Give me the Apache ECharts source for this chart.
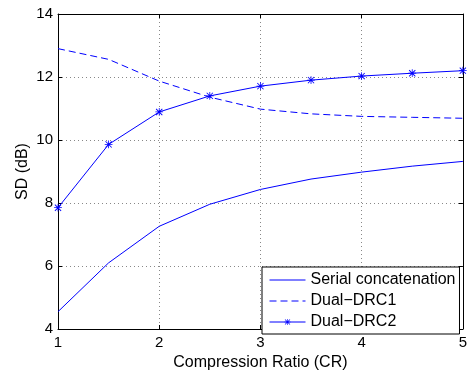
<!DOCTYPE html>
<html>
<head>
<meta charset="utf-8">
<script src="https://cdn.jsdelivr.net/npm/echarts@6/dist/echarts.min.js"></script>
<style>html,body{margin:0;padding:0;background:#fff;}#c{width:470px;height:376px;}</style>
</head>
<body>
<div id="c"></div>
<script>
var xValues = [1, 1.5, 2, 2.5, 3, 3.5, 4, 4.5, 5];
var serialConcat = [4.55, 6.1, 7.26, 7.96, 8.43, 8.76, 8.98, 9.17, 9.32];
var dualDRC1 = [12.9, 12.56, 11.87, 11.36, 10.98, 10.83, 10.75, 10.72, 10.69];
var dualDRC2 = [7.85, 9.86, 10.89, 11.4, 11.71, 11.9, 12.03, 12.12, 12.2];
var seriesNames = ['Serial concatenation', 'Dual\u2212DRC1', 'Dual\u2212DRC2'];
var xTicks = [1, 2, 3, 4, 5];
var yTicks = [4, 6, 8, 10, 12, 14];

function pairs(ys) { return xValues.map(function (x, i) { return [x, ys[i]]; }); }

var FONT = '"Liberation Sans", Arial, Helvetica, sans-serif';
var BLUE = '#0000ff';
// asterisk (10 units) centred in an 18-unit box marked by two tiny corner dots
var asterisk = 'path://M0,0 L0.01,0 L0.01,0.01 Z M18,18 L17.99,18 L17.99,17.99 Z ' +
  'M8.5,4 L9.5,4 L9.5,14 L8.5,14 Z M4,8.5 L14,8.5 L14,9.5 L4,9.5 Z ' +
  'M5.4,4.6 L13.4,12.6 L12.6,13.4 L4.6,5.4 Z M12.6,4.6 L13.4,5.4 L5.4,13.4 L4.6,12.6 Z';

var gridLine = { show: true, lineStyle: { color: '#888', width: 1, type: [1, 3] } };
var axisLine = { show: true, onZero: false, lineStyle: { color: '#000', width: 1 } };
var tick = { show: true, inside: true, length: 4, lineStyle: { color: '#000', width: 1 } };

var chart = echarts.init(document.getElementById('c'), null, { renderer: 'canvas' });
chart.setOption({
  backgroundColor: '#fff',
  animation: false,
  textStyle: { fontFamily: FONT, color: '#000' },
  grid: { left: 58, top: 14, width: 407, height: 321, containLabel: false },
  xAxis: [{
    type: 'value', min: xTicks[0], max: xTicks[xTicks.length - 1], interval: 1,
    name: 'Compression Ratio (CR)', nameLocation: 'middle', nameGap: 26, nameMoveOverlap: false,
    nameTextStyle: { fontSize: 16, color: '#000', fontFamily: FONT },
    axisLine: axisLine, axisTick: tick, splitLine: gridLine,
    axisLabel: { fontSize: 15, color: '#000', margin: 6, fontFamily: FONT }
  }, {
    type: 'value', position: 'top', min: xTicks[0], max: xTicks[xTicks.length - 1], interval: 1,
    axisLine: axisLine, axisTick: tick, splitLine: { show: false }, axisLabel: { show: false }
  }],
  yAxis: [{
    type: 'value', min: yTicks[0], max: yTicks[yTicks.length - 1], interval: 2,
    name: 'SD (dB)', nameLocation: 'middle', nameGap: 27, nameMoveOverlap: false,
    nameTextStyle: { fontSize: 16, color: '#000', fontFamily: FONT },
    axisLine: axisLine, axisTick: tick, splitLine: gridLine,
    axisLabel: { fontSize: 15, color: '#000', margin: 5, fontFamily: FONT }
  }, {
    type: 'value', position: 'right', min: yTicks[0], max: yTicks[yTicks.length - 1], interval: 2,
    axisLine: axisLine, axisTick: tick, splitLine: { show: false }, axisLabel: { show: false }
  }],
  legend: {
    orient: 'vertical', left: 262, top: 267,
    padding: [5, 4, 4, 7], itemGap: 5, itemWidth: 36, itemHeight: 14,
    backgroundColor: '#fff', borderColor: '#000', borderWidth: 1, borderRadius: 0,
    textStyle: { fontSize: 16, color: '#000', fontFamily: FONT },
    lineStyle: { width: 1 },
    data: [
      { name: seriesNames[0], itemStyle: { opacity: 0 } },
      { name: seriesNames[1], itemStyle: { opacity: 0 } },
      { name: seriesNames[2] }
    ]
  },
  series: [{
    name: seriesNames[0], type: 'line', data: pairs(serialConcat), symbol: 'none',
    lineStyle: { color: BLUE, width: 1 }, itemStyle: { color: BLUE }
  }, {
    name: seriesNames[1], type: 'line', data: pairs(dualDRC1), symbol: 'none',
    lineStyle: { color: BLUE, width: 1, type: [7, 4] }, itemStyle: { color: BLUE }
  }, {
    name: seriesNames[2], type: 'line', data: pairs(dualDRC2), symbol: asterisk, symbolSize: 14,
    lineStyle: { color: BLUE, width: 1 }, itemStyle: { color: BLUE }
  }]
});
</script>
</body>
</html>
